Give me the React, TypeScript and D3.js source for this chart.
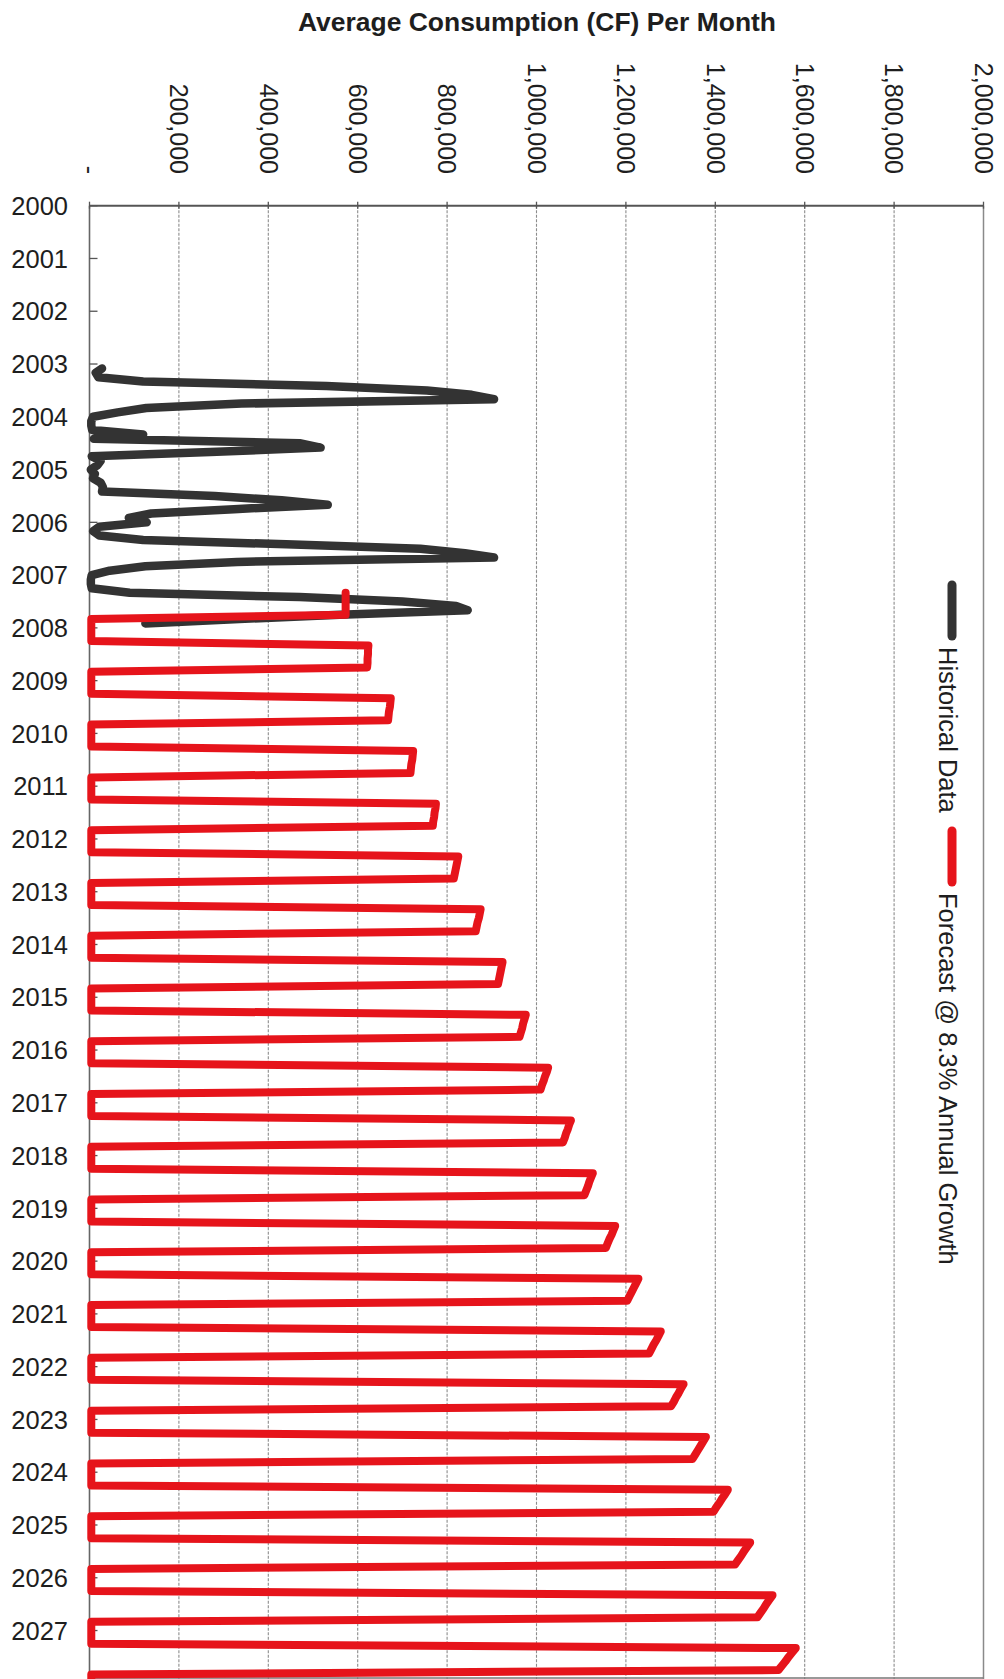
import React, { useEffect, useRef } from 'react';
import * as d3 from 'd3';

// Category axis: one label per January
const yearLabels = [
  '2000', '2001', '2002', '2003', '2004', '2005', '2006', '2007', '2008', '2009',
  '2010', '2011', '2012', '2013', '2014', '2015', '2016', '2017', '2018', '2019',
  '2020', '2021', '2022', '2023', '2024', '2025', '2026', '2027',
];

// Value axis ticks (CF per month)
const valueTicks = [0, 200000, 400000, 600000, 800000, 1000000, 1200000, 1400000, 1600000, 1800000, 2000000];

// Historical monthly consumption, starting Feb 2003
const historicalStart = { year: 2003, month: 1 };
const historical = [
  /* 2003 */ 28000, 14000, 20000, 120000, 530000, 755000, 855000, 905000, 340000, 127000, 63000,
  /* 2004 */ 8000, 4000, 4000, 6000, 120000, 10000, 470000, 517000, 270000, 5000, 25000, 18000,
  /* 2005 */ 3000, 12000, 8000, 25000, 30000, 28000, 280000, 430000, 533000, 323000, 138000, 88000,
  /* 2006 */ 128000, 22000, 8000, 22000, 120000, 440000, 740000, 840000, 905000, 330000, 125000, 45000,
  /* 2007 */ 5000, 3000, 3000, 5000, 90000, 470000, 700000, 820000, 846000, 560000, 335000, 125000,
];

// Forecast @ 8.3% annual growth, starting May 2007
const forecastStart = { year: 2007, month: 4 };
const forecast = [
  /* 2007 */ 573000, 573000, 573000, 573000, 573000, 573000, 4000, 4000,
  /* 2008 */ 4000, 4000, 4000, 4000, 624000, 623000, 623000, 622000, 622000, 621000, 4000, 4000,
  /* 2009 */ 4000, 4000, 4000, 4000, 674000, 673000, 672000, 670000, 669000, 668000, 4000, 4000,
  /* 2010 */ 4000, 4000, 4000, 4000, 724000, 723000, 722000, 720000, 719000, 718000, 4000, 4000,
  /* 2011 */ 4000, 4000, 4000, 4000, 775000, 774000, 772000, 771000, 769000, 768000, 4000, 4000,
  /* 2012 */ 4000, 4000, 4000, 4000, 825000, 823000, 821000, 819000, 817000, 815000, 4000, 4000,
  /* 2013 */ 4000, 4000, 4000, 4000, 875000, 873000, 871000, 868000, 866000, 864000, 4000, 4000,
  /* 2014 */ 4000, 4000, 4000, 4000, 924000, 922000, 920000, 918000, 916000, 914000, 4000, 4000,
  /* 2015 */ 4000, 4000, 4000, 4000, 976000, 973000, 970000, 968000, 965000, 962000, 4000, 4000,
  /* 2016 */ 4000, 4000, 4000, 4000, 1026000, 1023000, 1019000, 1016000, 1012000, 1009000, 4000, 4000,
  /* 2017 */ 4000, 4000, 4000, 4000, 1077000, 1073000, 1070000, 1066000, 1063000, 1059000, 4000, 4000,
  /* 2018 */ 4000, 4000, 4000, 4000, 1126000, 1122000, 1118000, 1115000, 1111000, 1107000, 4000, 4000,
  /* 2019 */ 4000, 4000, 4000, 4000, 1176000, 1172000, 1168000, 1163000, 1159000, 1155000, 4000, 4000,
  /* 2020 */ 4000, 4000, 4000, 4000, 1228000, 1223000, 1218000, 1213000, 1208000, 1203000, 4000, 4000,
  /* 2021 */ 4000, 4000, 4000, 4000, 1278000, 1273000, 1268000, 1262000, 1257000, 1252000, 4000, 4000,
  /* 2022 */ 4000, 4000, 4000, 4000, 1329000, 1323000, 1318000, 1312000, 1307000, 1301000, 4000, 4000,
  /* 2023 */ 4000, 4000, 4000, 4000, 1379000, 1373000, 1367000, 1361000, 1355000, 1349000, 4000, 4000,
  /* 2024 */ 4000, 4000, 4000, 4000, 1428000, 1422000, 1415000, 1409000, 1402000, 1396000, 4000, 4000,
  /* 2025 */ 4000, 4000, 4000, 4000, 1478000, 1471000, 1464000, 1458000, 1451000, 1444000, 4000, 4000,
  /* 2026 */ 4000, 4000, 4000, 4000, 1528000, 1521000, 1514000, 1508000, 1501000, 1494000, 4000, 4000,
  /* 2027 */ 4000, 4000, 4000, 4000, 1580000, 1572000, 1564000, 1557000, 1549000, 1541000, 4000, 4000,
];

const seriesNames = ['Historical Data', 'Forecast @ 8.3% Annual Growth'];

const W = 1004;
const H = 1679;
const FONT = '"Liberation Sans", Arial, Helvetica, sans-serif';

export default function App() {
  const ref = useRef<SVGSVGElement | null>(null);

  useEffect(() => {
    if (!ref.current) return;
    const svg = d3.select(ref.current);
    svg.selectAll('*').remove();

    const firstYear = +yearLabels[0];
    const monthCount = yearLabels.length * 12;
    const idx = (s: { year: number; month: number }, i: number) => (s.year - firstYear) * 12 + s.month + i;

    // chart is printed rotated: values run left->right, time runs top->bottom
    const x = d3.scaleLinear().domain([0, 2000000]).range([89.5, 983.5]);
    const y = d3.scaleLinear().domain([0, monthCount - 1]).range([205.7, 1678.9]);
    const top = y(0);
    const bottom = H;

    svg.append('rect').attr('width', W).attr('height', H).attr('fill', '#ffffff');

    // title
    svg.append('text')
      .attr('x', 537).attr('y', 31)
      .attr('text-anchor', 'middle')
      .attr('font-family', FONT).attr('font-weight', 'bold').attr('font-size', 26.5)
      .attr('textLength', 478).attr('lengthAdjust', 'spacingAndGlyphs')
      .attr('fill', '#1e1e1e')
      .text('Average Consumption (CF) Per Month');

    // gridlines
    const grid = svg.append('g');
    grid.selectAll('line.grid')
      .data(valueTicks.filter(v => v > 0 && v < 2000000))
      .enter().append('line')
      .attr('class', 'grid')
      .attr('x1', d => x(d)).attr('x2', d => x(d))
      .attr('y1', top).attr('y2', bottom)
      .attr('stroke', '#8c8c8c').attr('stroke-width', 1.1)
      .attr('stroke-dasharray', '3,1.5');

    // frame
    svg.append('line').attr('x1', x(2000000)).attr('x2', x(2000000)).attr('y1', top).attr('y2', bottom)
      .attr('stroke', '#8a8a8a').attr('stroke-width', 1.5);
    svg.append('line').attr('x1', x(0)).attr('x2', x(2000000)).attr('y1', bottom - 1).attr('y2', bottom - 1)
      .attr('stroke', '#777').attr('stroke-width', 1.5);
    svg.append('line').attr('x1', x(0)).attr('x2', x(2000000)).attr('y1', top).attr('y2', top)
      .attr('stroke', '#555').attr('stroke-width', 2);
    svg.append('line').attr('x1', x(0)).attr('x2', x(0)).attr('y1', top).attr('y2', bottom)
      .attr('stroke', '#666').attr('stroke-width', 1.6);

    // value axis ticks + labels (rotated)
    const vAxis = svg.append('g');
    vAxis.selectAll('line')
      .data(valueTicks)
      .enter().append('line')
      .attr('x1', d => x(d)).attr('x2', d => x(d))
      .attr('y1', top - 4).attr('y2', top + 3)
      .attr('stroke', '#555').attr('stroke-width', 1.3);
    const fmt = d3.format(',');
    vAxis.selectAll('text')
      .data(valueTicks)
      .enter().append('text')
      .attr('transform', d => `translate(${x(d)},174) rotate(90)`)
      .attr('text-anchor', 'end')
      .attr('dy', '0.35em')
      .attr('font-family', FONT).attr('font-size', 25)
      .attr('fill', '#1e1e1e')
      .text(d => (d === 0 ? '-' : fmt(d)));

    // category axis ticks + year labels
    const cAxis = svg.append('g');
    cAxis.selectAll('line')
      .data(yearLabels)
      .enter().append('line')
      .attr('x1', x(0)).attr('x2', x(0) + 8)
      .attr('y1', (_d, i) => y(i * 12)).attr('y2', (_d, i) => y(i * 12))
      .attr('stroke', '#555').attr('stroke-width', 1.3);
    cAxis.selectAll('text')
      .data(yearLabels)
      .enter().append('text')
      .attr('x', 68)
      .attr('y', (_d, i) => y(i * 12))
      .attr('dy', '0.36em')
      .attr('text-anchor', 'end')
      .attr('font-family', FONT).attr('font-size', 25.5)
      .attr('fill', '#1e1e1e')
      .text(d => d);

    // series
    const histLine = d3.line<number>()
      .x(d => x(d))
      .y((_d, i) => y(idx(historicalStart, i)));
    const foreLine = d3.line<number>()
      .x(d => x(d))
      .y((_d, i) => y(idx(forecastStart, i)));

    svg.append('path')
      .attr('d', histLine(historical) as string)
      .attr('fill', 'none')
      .attr('stroke', '#333333').attr('stroke-width', 8.5)
      .attr('stroke-linejoin', 'round').attr('stroke-linecap', 'round');

    svg.append('path')
      .attr('d', foreLine(forecast) as string)
      .attr('fill', 'none')
      .attr('stroke', '#e6141b').attr('stroke-width', 8)
      .attr('stroke-linejoin', 'round').attr('stroke-linecap', 'round');

    // legend (rotated, right side)
    const legend = svg.append('g');
    const legendItems = [
      { name: seriesNames[0], color: '#333333', y0: 585, y1: 636, ty: 647 },
      { name: seriesNames[1], color: '#e6141b', y0: 831, y1: 882, ty: 893 },
    ];
    legendItems.forEach(it => {
      legend.append('line')
        .attr('x1', 952).attr('x2', 952).attr('y1', it.y0).attr('y2', it.y1)
        .attr('stroke', it.color).attr('stroke-width', 9).attr('stroke-linecap', 'round');
      legend.append('text')
        .attr('transform', `translate(938.5,${it.ty}) rotate(90)`)
        .attr('font-family', FONT).attr('font-size', 25.5)
        .attr('fill', '#1e1e1e')
        .text(it.name);
    });
  }, []);

  return (
    <svg
      ref={ref}
      width={W}
      height={H}
      style={{ position: 'absolute', left: 0, top: 0, display: 'block' }}
    />
  );
}
